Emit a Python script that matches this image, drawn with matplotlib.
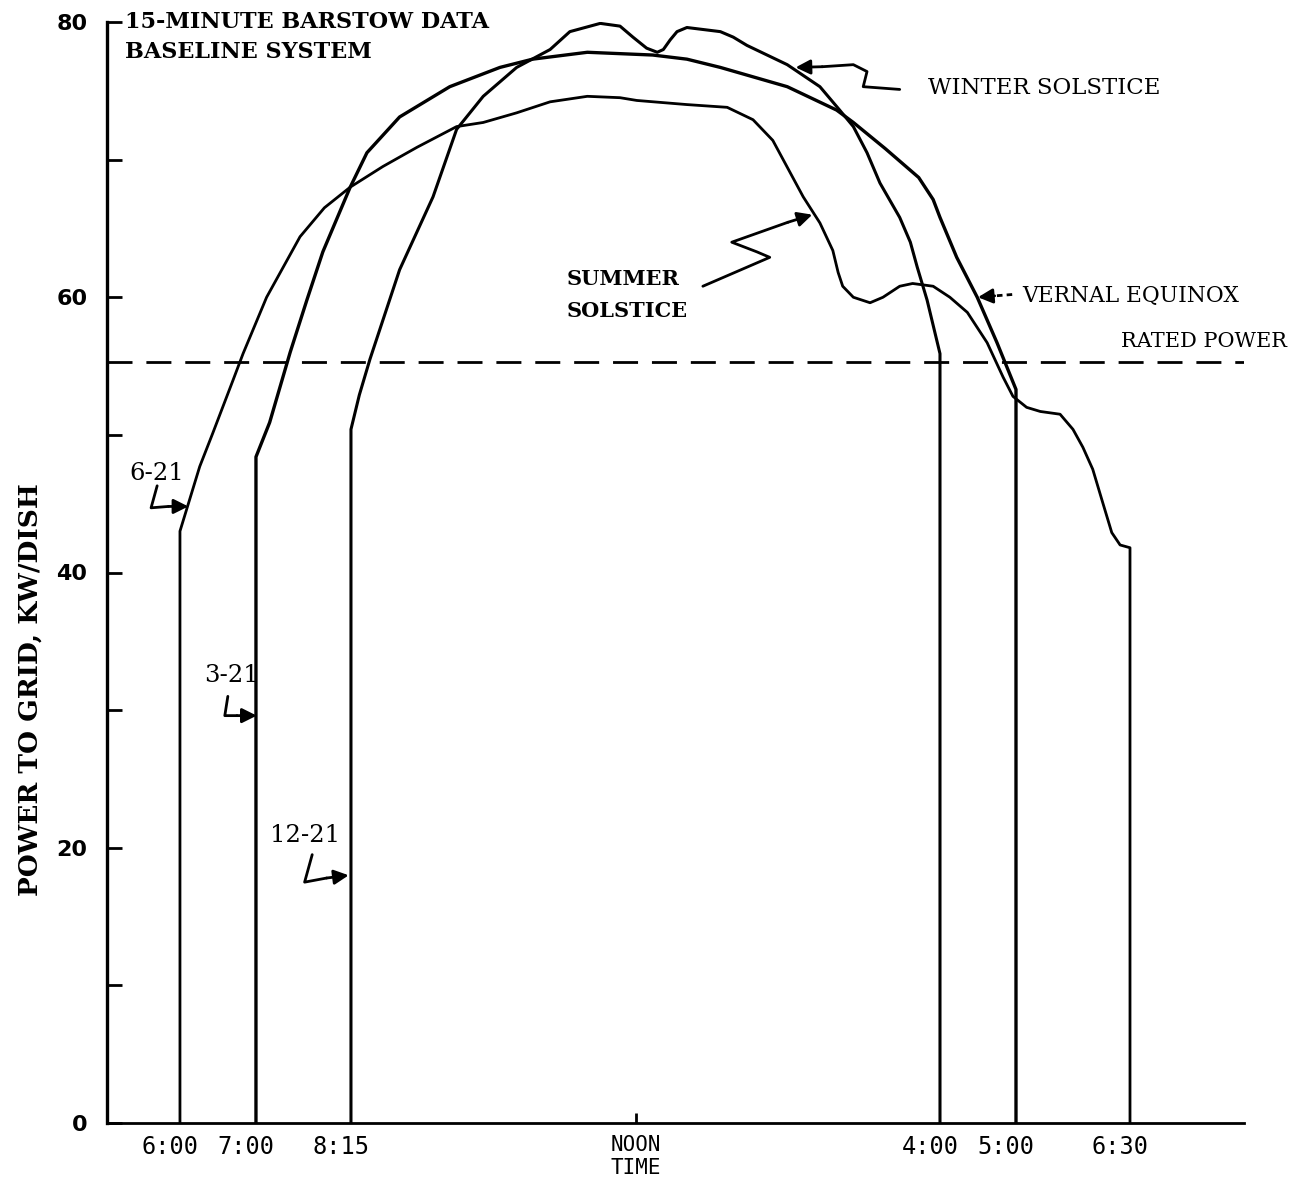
import matplotlib.pyplot as plt

plt.rcParams['lines.scale_dashes'] = False

# clock hours (24h) and power to grid, kW per dish
summer_hours = [6.0, 6.0, 6.26, 6.43, 6.70, 6.83, 7.14, 7.58, 7.90, 8.24, 8.67, 9.12, 9.64, 9.99,
                10.43, 10.87, 11.36, 11.79, 12.01, 12.67, 13.20, 13.54, 13.80, 14.20, 14.42,
                14.59, 14.66, 14.72, 14.86, 15.08, 15.25, 15.47, 15.64, 15.91, 16.13, 16.36,
                16.62, 16.83, 16.96, 17.14, 17.32, 17.58, 17.75, 17.88, 18.01, 18.14, 18.26,
                18.37, 18.5, 18.5]
summer_kw = [0, 43.0, 47.7, 50.1, 54.0, 55.9, 60.0, 64.4, 66.5, 68.0, 69.5, 70.9, 72.4, 72.7,
             73.4, 74.2, 74.6, 74.5, 74.3, 74.0, 73.8, 72.9, 71.4, 67.3, 65.4,
             63.4, 61.8, 60.8, 60.0, 59.6, 60.0, 60.8, 61.0, 60.8, 60.0, 58.9,
             56.7, 54.2, 52.8, 52.0, 51.7, 51.5, 50.4, 49.1, 47.5, 45.1, 42.9,
             42.0, 41.8, 0]

vernal_hours = [7.0, 7.0, 7.18, 7.45, 7.67, 7.88, 8.24, 8.46, 8.89, 9.55, 10.21, 10.64,
                11.36, 12.22, 12.67, 13.11, 13.99, 14.64, 14.86, 15.28, 15.72, 15.91, 16.0,
                16.22, 16.49, 16.75, 17.0, 17.0]
vernal_kw = [0, 48.4, 50.9, 56.0, 59.8, 63.3, 68.0, 70.5, 73.1, 75.3, 76.7, 77.3,
             77.8, 77.6, 77.3, 76.7, 75.3, 73.6, 72.7, 70.8, 68.7, 67.1, 65.8,
             62.9, 60.0, 56.7, 53.3, 0]

winter_hours = [8.25, 8.25, 8.36, 8.50, 8.89, 9.33, 9.64, 9.99, 10.43, 10.87, 11.13, 11.53,
                11.79, 11.96, 12.14, 12.28, 12.36, 12.45, 12.54, 12.67, 13.11, 13.28, 13.46,
                13.99, 14.42, 14.68, 14.86, 15.04, 15.21, 15.47, 15.61, 15.70, 15.83, 16.0, 16.0]
winter_kw = [0, 50.4, 52.9, 55.5, 62.0, 67.3, 72.2, 74.6, 76.7, 78.0, 79.3, 79.9,
             79.7, 78.9, 78.1, 77.8, 78.0, 78.7, 79.3, 79.6, 79.3, 78.9, 78.3,
             76.9, 75.3, 73.6, 72.4, 70.5, 68.3, 65.8, 64.0, 62.2, 59.8, 55.9, 0]

rated_power = 55.3

tick_hours = [6.0, 7.0, 8.25, 12.0, 16.0, 17.0, 18.5]
tick_names = ['6:00', '7:00', '8:15', 'NOON\nTIME', '4:00', '5:00', '6:30']

SERIF = 'DejaVu Serif'
MONO = 'DejaVu Sans Mono'

fig = plt.figure(figsize=(12.97, 11.93), dpi=100)
ax = fig.add_axes([107 / 1297, 70 / 1193, 1137 / 1297, 1101 / 1193])

ax.plot(summer_hours, summer_kw, color='black', lw=2.0, solid_joinstyle='round')
ax.plot(vernal_hours, vernal_kw, color='black', lw=2.4, solid_joinstyle='round')
ax.plot(winter_hours, winter_kw, color='black', lw=2.2, solid_joinstyle='round')
ax.axhline(rated_power, color='black', lw=2.0, dashes=(18, 10))

ax.set_xlim(5.04, 20.0)
ax.set_ylim(0, 80)
for side in ['top', 'right']:
    ax.spines[side].set_visible(False)
ax.spines['left'].set_linewidth(2.4)
ax.spines['bottom'].set_linewidth(2.0)

ax.set_yticks([0, 20, 40, 60, 80])
ax.set_yticks([10, 30, 50, 70], minor=True)
ax.tick_params(axis='y', which='both', direction='in', length=11, width=2, pad=14)
for lab in ax.get_yticklabels():
    lab.set_fontsize(16)
    lab.set_fontweight('bold')

# time labels drawn by hand: the typed labels sit a little left of their marks
ax.set_xticks([12.0])
ax.set_xticklabels([])
ax.tick_params(axis='x', direction='in', length=7, width=2)
xform = ax.get_xaxis_transform()
for h, name in zip(tick_hours, tick_names):
    if 'NOON' in name:
        ax.text(h, -0.011, name, transform=xform, family=MONO, fontsize=15,
                ha='center', va='top', linespacing=1.15)
    else:
        ax.text(h - 0.13, -0.011, name, transform=xform, family=MONO, fontsize=17,
                ha='center', va='top')

fig.text(30 / 1297, 1 - 690 / 1193, 'POWER TO GRID, KW/DISH', rotation=90,
         ha='center', va='center', family=SERIF, fontsize=19, fontweight='bold')

# header text
ax.text(5.28, 80.0, '15-MINUTE BARSTOW DATA', family=SERIF, fontsize=16,
        fontweight='bold', va='center', ha='left')
ax.text(5.28, 77.8, 'BASELINE SYSTEM', family=SERIF, fontsize=16,
        fontweight='bold', va='center', ha='left')


def pointer(path, tip, dashed=False):
    xs = [p[0] for p in path]
    ys = [p[1] for p in path]
    ls = (0, (4, 3)) if dashed else '-'
    ax.plot(xs, ys, color='black', lw=2.0, ls=ls, solid_capstyle='round')
    ax.annotate('', xy=tip, xytext=path[-1],
                arrowprops=dict(arrowstyle='-|>', color='black', lw=2.0,
                                mutation_scale=22, shrinkA=0, shrinkB=0))


# curve labels
ax.text(15.84, 75.2, 'WINTER SOLSTICE', family=SERIF, fontsize=16.5, va='center', ha='left')
pointer([(15.47, 75.1), (14.99, 75.3), (15.04, 76.4), (14.86, 76.9), (14.45, 76.75)],
        (14.10, 76.7))

ax.text(17.08, 60.1, 'VERNAL EQUINOX', family=SERIF, fontsize=15.7, va='center', ha='left')
pointer([(16.95, 60.2), (16.72, 60.1)], (16.50, 60.0), dashed=True)

ax.text(20.57, 56.8, 'RATED POWER', family=SERIF, fontsize=15, va='center', ha='right')

ax.text(11.09, 61.3, 'SUMMER', family=SERIF, fontsize=15, fontweight='bold',
        va='center', ha='left')
ax.text(11.09, 59.0, 'SOLSTICE', family=SERIF, fontsize=15, fontweight='bold',
        va='center', ha='left')
pointer([(12.88, 60.8), (13.76, 62.9), (13.59, 63.3), (13.26, 64.0), (14.0, 65.45)],
        (14.32, 66.0))

# date hooks
ax.text(5.69, 47.2, '6-21', family=SERIF, fontsize=17.5, va='center', ha='center')
pointer([(5.70, 46.3), (5.62, 44.7), (5.85, 44.8)], (6.11, 44.8))
ax.text(6.68, 32.5, '3-21', family=SERIF, fontsize=17.5, va='center', ha='center')
pointer([(6.63, 31.0), (6.59, 29.6), (6.75, 29.6)], (7.01, 29.6))
ax.text(7.64, 20.9, '12-21', family=SERIF, fontsize=17.5, va='center', ha='center')
pointer([(7.74, 19.5), (7.64, 17.5), (7.93, 17.8)], (8.22, 18.0))

fig.savefig('out.png', dpi=100)
